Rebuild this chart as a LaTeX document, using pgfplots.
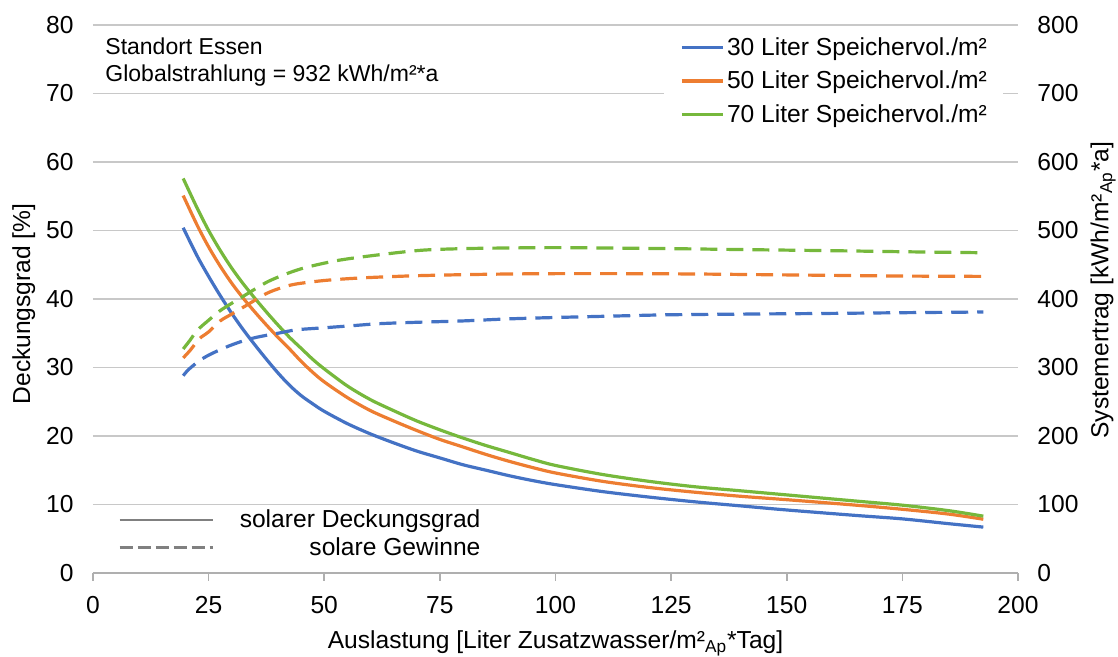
\documentclass[border=0pt]{standalone}
\usepackage{fontspec}
\setmainfont{Liberation Sans}
\usepackage{pgfplots}
\pgfplotsset{compat=1.18}
\definecolor{cblue}{RGB}{68,114,196}
\definecolor{corange}{RGB}{237,125,49}
\definecolor{cgreen}{RGB}{118,184,60}
\definecolor{cgrid}{RGB}{200,200,200}
\definecolor{caxis}{RGB}{175,175,175}
\begin{document}
\fontsize{12.3}{14.5}\selectfont
\begin{tikzpicture}[font=\fontsize{12.3}{14.5}\selectfont]
\useasboundingbox (-46.5pt,-42pt) rectangle (512.5pt,286.5pt);
\begin{axis}[
  at={(0,0)}, anchor=south west,
  scale only axis, width=462.5pt, height=274pt,
  xmin=0, xmax=200, ymin=0, ymax=80,
  xtick={0,25,...,200}, ytick={0,10,...,80},
  axis x line*=bottom, axis y line*=left,
  x axis line style={-, draw=caxis, line width=0.8pt},
  y axis line style={draw=none},
  xtick align=outside, major tick length=4pt,
  xtick style={draw=caxis, line width=0.8pt},
  ytick style={draw=none},
  ymajorgrids, major grid style={draw=cgrid, line width=0.8pt},
  /pgf/number format/assume math mode=true,
  xticklabel style={inner sep=0pt, anchor=north},
  xticklabel shift=7.5pt,
  yticklabel style={inner sep=0pt, anchor=east},
  yticklabel shift=9.5pt,
  xlabel={Auslastung [Liter Zusatzwasser/m²\textsubscript{Ap}*Tag]},
  xlabel style={at={(axis description cs:0.5,-0.1378)}, anchor=base, inner sep=0pt},
  ylabel={Deckungsgrad [\%]},
  ylabel style={at={(axis description cs:-0.068,0.491)}, anchor=base, inner sep=0pt},
  legend style={at={(axis description cs:0.6165,0.9927)}, anchor=north west, draw=none, fill=white,
    inner xsep=8.3pt, inner ysep=3pt, row sep=4.8pt, column sep=1pt,
    nodes={inner sep=0pt, text height=10pt, text depth=2pt}, cells={anchor=west}},
  legend image code/.code={\draw[#1] (0pt,0pt) -- (20.8pt,0pt);},
]
\addplot[cblue, line width=1.6pt, smooth, tension=0.5] coordinates {
(19.5,50.4) (22.5,46.3) (25,43.3) (27.5,40.5) (30,37.9) (32.5,35.5) (35,33.3) (37.5,31.2)
(40,29.2) (42.5,27.4) (45,25.9) (47.5,24.7) (50,23.6) (55,21.8) (60,20.3) (65,19.0)
(70,17.8) (75,16.8) (80,15.8) (85,15.0) (90,14.2) (95,13.5) (100,12.9) (110,11.9)
(120,11.1) (130,10.4) (140,9.8) (150,9.2) (165,8.4) (175,7.9) (185,7.2) (192.5,6.7)};
\addlegendentry{30 Liter Speichervol./m²}
\addplot[corange, line width=1.6pt, smooth, tension=0.5] coordinates {
(19.5,55.1) (22.5,50.8) (25,47.6) (27.5,44.8) (30,42.3) (32.5,40.1) (35,38.1) (37.5,36.2)
(40,34.4) (42.5,32.7) (45,30.9) (47.5,29.3) (50,27.9) (55,25.6) (60,23.7) (65,22.2)
(70,20.8) (75,19.5) (80,18.4) (85,17.3) (90,16.3) (95,15.4) (100,14.6) (110,13.4)
(120,12.5) (130,11.8) (140,11.2) (150,10.7) (165,9.9) (175,9.3) (185,8.6) (192.5,7.85)};
\addlegendentry{50 Liter Speichervol./m²}
\addplot[cgreen, line width=1.6pt, smooth, tension=0.5] coordinates {
(19.5,57.6) (22.5,53.3) (25,50.0) (27.5,47.1) (30,44.5) (32.5,42.2) (35,40.1) (37.5,38.1)
(40,36.2) (42.5,34.4) (45,32.8) (47.5,31.2) (50,29.8) (55,27.3) (60,25.3) (65,23.7)
(70,22.2) (75,20.9) (80,19.7) (85,18.6) (90,17.6) (95,16.6) (100,15.7) (110,14.4)
(120,13.4) (130,12.6) (140,12.0) (150,11.4) (165,10.5) (175,9.9) (185,9.1) (192.5,8.3)};
\addlegendentry{70 Liter Speichervol./m²}
\node[anchor=base west, inner sep=0pt, font=\fontsize{11.5}{13.5}\selectfont] at (axis description cs:0.013,0.947) {Standort Essen};
\node[anchor=base west, inner sep=0pt, font=\fontsize{11.5}{13.5}\selectfont] at (axis description cs:0.013,0.8965) {Globalstrahlung = 932 kWh/m²*a};
\end{axis}
\begin{axis}[
  at={(0,0)}, anchor=south west,
  scale only axis, width=462.5pt, height=274pt,
  xmin=0, xmax=200, ymin=0, ymax=800,
  ytick={0,100,...,800},
  hide x axis, axis y line*=right,
  y axis line style={draw=none}, ytick style={draw=none},
  /pgf/number format/assume math mode=true,
  yticklabel style={inner sep=0pt, anchor=west},
  yticklabel shift=9.5pt,
  ylabel={Systemertrag [kWh/m²\textsubscript{Ap}*a]},
  ylabel style={at={(axis description cs:1.0978,0.516)}, anchor=base, inner sep=0pt},
  legend style={at={(axis description cs:0.027,0.1195)}, anchor=north west, draw=none, fill=none,
    inner sep=0pt, row sep=1.75pt, column sep=13pt,
    nodes={inner sep=0pt, text height=10pt, text depth=2pt}, cells={anchor=east}},
  legend image code/.code={\draw[#1] (0pt,0pt) -- (46.5pt,0pt);},
  every axis plot/.append style={line width=1.6pt, dash pattern=on 8.5pt off 4.5pt, smooth, tension=0.5},
]
\addlegendimage{gray, line width=1.2pt, solid}
\addlegendentry{solarer Deckungsgrad}
\addlegendimage{gray, line width=1.2pt, dash pattern=on 6.5pt off 2.5pt}
\addlegendentry{solare Gewinne}
\addplot[cblue, forget plot] coordinates {
(19.5,288) (20.5,296) (21.7,303) (23,310) (25,318) (27.5,326) (30,333) (33,340) (36,345)
(40,350) (44,355) (50,358) (56,361) (62,364) (70,366) (80,368) (90,371) (100,373)
(112,375) (125,377) (142,378) (160,379) (175,380) (192.5,381)};
\addplot[corange, forget plot] coordinates {
(19.5,314) (21,325) (23,342) (25,352) (27.5,368) (30,378) (33,390) (37.5,408) (41,417)
(44,422) (50,427) (56,430) (62,432) (70,434) (80,435.5) (90,436.5) (100,437) (115,437)
(130,436.5) (145,435.5) (160,434.5) (175,433.5) (192.5,433)};
\addplot[cgreen, forget plot] coordinates {
(19.5,327) (21,340) (22.5,354) (25,369) (27.5,383) (30.3,395) (32.5,404) (35.4,416)
(38,426) (41.9,437) (46,446) (52.7,456) (60,463) (70.7,471) (80,473.5) (90,474.5)
(100,475) (110,474.5) (125,473.5) (142,472) (160,470.5) (175,469) (192.5,467.5)};
\end{axis}
\end{tikzpicture}
\end{document}
